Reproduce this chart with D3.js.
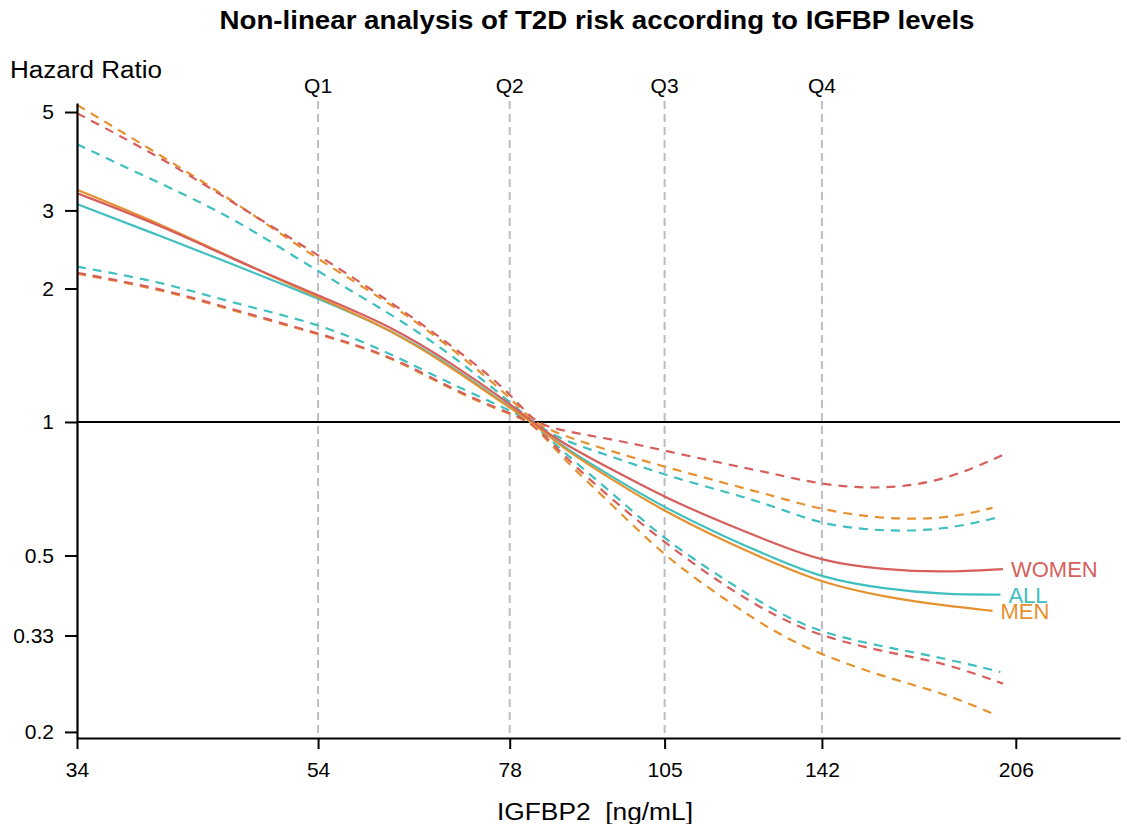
<!DOCTYPE html>
<html>
<head>
<meta charset="utf-8">
<script src="https://cdn.jsdelivr.net/npm/d3@7"></script>
<style>
  body { margin: 0; background: #fff; }
  text { font-family: "Liberation Sans", Arial, sans-serif; }
</style>
</head>
<body>
<div id="chart"></div>
<script>
var igfbp = [34, 40, 46, 54, 62, 70, 78, 81.5, 86, 95, 105, 118, 130, 142, 160, 180];
var groups = ['ALL', 'MEN', 'WOMEN'];
var lastIgfbp = [200, 197, 201];

var allHR = [3.10, 2.62, 2.26, 1.90, 1.62, 1.33, 1.08, 1, 0.885, 0.752, 0.64, 0.55, 0.491, 0.445, 0.420, 0.408, 0.408];
var allLo = [2.24, 2.07, 1.85, 1.67, 1.43, 1.21, 1.064, 1, 0.865, 0.691, 0.542, 0.440, 0.373, 0.334, 0.311, 0.293, 0.273];
var allHi = [4.23, 3.44, 2.88, 2.18, 1.76, 1.41, 1.11, 1, 0.911, 0.835, 0.759, 0.696, 0.644, 0.586, 0.566, 0.571, 0.611];

var menHR = [3.34, 2.79, 2.33, 1.91, 1.62, 1.32, 1.075, 1, 0.88, 0.74, 0.628, 0.537, 0.479, 0.434, 0.403, 0.385, 0.375];
var menLo = [2.16, 1.99, 1.78, 1.58, 1.41, 1.175, 1.04, 1, 0.835, 0.650, 0.497, 0.397, 0.334, 0.298, 0.266, 0.244, 0.220];
var menHi = [5.19, 3.98, 3.14, 2.32, 1.855, 1.46, 1.14, 1, 0.935, 0.857, 0.793, 0.727, 0.679, 0.633, 0.604, 0.604, 0.640];

var womenHR = [3.28, 2.77, 2.32, 1.93, 1.65, 1.35, 1.10, 1, 0.90, 0.78, 0.676, 0.589, 0.531, 0.485, 0.464, 0.458, 0.466];
var womenLo = [2.17, 2.00, 1.79, 1.585, 1.416, 1.18, 1.046, 1, 0.850, 0.667, 0.534, 0.425, 0.364, 0.328, 0.303, 0.286, 0.257];
var womenHi = [4.97, 3.94, 3.11, 2.38, 1.87, 1.48, 1.17, 1, 0.956, 0.914, 0.862, 0.804, 0.763, 0.721, 0.704, 0.738, 0.843];

var quartiles = [54, 78, 105, 142];
var quartileLabels = ['Q1', 'Q2', 'Q3', 'Q4'];
var xTicks = [34, 54, 78, 105, 142, 206];
var yTicks = [0.2, 0.33, 0.5, 1, 2, 3, 5];

var width = 1127,
    height = 824,
    colors = { ALL: '#3fbfbf', MEN: '#e6912f', WOMEN: '#d65f5c' };

var xScale = d3.scaleLog().domain([34, 251.6]).range([77, 1120]);
var yScale = d3.scaleLog().domain([0.1938, 5.24]).range([738, 103]);

var series = {
  ALL: { hr: allHR, lo: allLo, hi: allHi },
  MEN: { hr: menHR, lo: menLo, hi: menHi },
  WOMEN: { hr: womenHR, lo: womenLo, hi: womenHi }
};

function points(values, end) {
  var xs = igfbp.concat([end]);
  return values.map((v, i) => [xs[i], v]);
}

var line = d3.line()
  .x((d) => xScale(d[0]))
  .y((d) => yScale(d[1]))
  .curve(d3.curveBasis);

var svg = d3.select('#chart')
            .append('svg')
            .attr('width', width)
            .attr('height', height);

svg.append('text')
   .attr('x', 597)
   .attr('y', 29)
   .attr('text-anchor', 'middle')
   .attr('font-size', 25)
   .attr('font-weight', 'bold')
   .attr('textLength', 755)
   .attr('lengthAdjust', 'spacingAndGlyphs')
   .text('Non-linear analysis of T2D risk according to IGFBP levels');

svg.append('text')
   .attr('x', 10)
   .attr('y', 78)
   .attr('font-size', 23)
   .attr('textLength', 152)
   .attr('lengthAdjust', 'spacingAndGlyphs')
   .text('Hazard Ratio');

svg.append('text')
   .attr('x', 595)
   .attr('y', 820)
   .attr('text-anchor', 'middle')
   .attr('font-size', 23)
   .attr('textLength', 196)
   .attr('lengthAdjust', 'spacingAndGlyphs')
   .style('white-space', 'pre')
   .text('IGFBP2  [ng/mL]');

// quartile cut-offs
svg.selectAll('.qline')
   .data(quartiles)
   .enter()
   .append('line')
   .attr('class', 'qline')
   .attr('x1', (d) => xScale(d))
   .attr('x2', (d) => xScale(d))
   .attr('y1', 101)
   .attr('y2', 738)
   .attr('stroke', '#bcbcc8')
   .attr('stroke-width', 2)
   .attr('stroke-dasharray', '8,5');

svg.selectAll('.qlabel')
   .data(quartiles)
   .enter()
   .append('text')
   .attr('class', 'qlabel')
   .attr('x', (d) => xScale(d))
   .attr('y', 93)
   .attr('text-anchor', 'middle')
   .attr('font-size', 21)
   .text((d, i) => quartileLabels[i]);

svg.append('line')
   .attr('x1', xScale(34))
   .attr('x2', 1120)
   .attr('y1', yScale(1))
   .attr('y2', yScale(1))
   .attr('stroke', '#000')
   .attr('stroke-width', 2);

groups.forEach((g, gi) => {
  var s = series[g];
  ['lo', 'hi'].forEach((k) => {
    svg.append('path')
       .datum(points(s[k], lastIgfbp[gi]))
       .attr('d', line)
       .attr('fill', 'none')
       .attr('stroke', colors[g])
       .attr('stroke-width', 2.2)
       .attr('stroke-dasharray', '9,7');
  });
});

groups.forEach((g, gi) => {
  var pts = points(series[g].hr, lastIgfbp[gi]);
  svg.append('path')
     .datum(pts)
     .attr('d', line)
     .attr('fill', 'none')
     .attr('stroke', colors[g])
     .attr('stroke-width', 2.2);

  var last = pts[pts.length - 1];
  svg.append('text')
     .attr('x', xScale(last[0]) + 8)
     .attr('y', yScale(last[1]))
     .attr('dy', '0.36em')
     .attr('font-size', 22)
     .attr('fill', colors[g])
     .text(g);
});

var yAxis = d3.axisLeft(yScale)
              .tickValues(yTicks)
              .tickFormat((d) => d)
              .tickSize(12)
              .tickSizeOuter(0)
              .tickPadding(11);

var xAxis = d3.axisBottom(xScale)
              .tickValues(xTicks)
              .tickFormat((d) => d)
              .tickSize(11)
              .tickSizeOuter(0)
              .tickPadding(13);

var gy = svg.append('g')
            .attr('transform', 'translate(77,0)')
            .call(yAxis);

var gx = svg.append('g')
            .attr('transform', 'translate(0,738)')
            .call(xAxis);

[gx, gy].forEach((a) => {
  a.select('.domain').attr('stroke-width', 2.2);
  a.selectAll('.tick line').attr('stroke-width', 2);
  a.selectAll('.tick text')
   .attr('font-size', 21)
   .attr('font-family', '"Liberation Sans", Arial, sans-serif')
   .attr('fill', '#000');
});
</script>
</body>
</html>
